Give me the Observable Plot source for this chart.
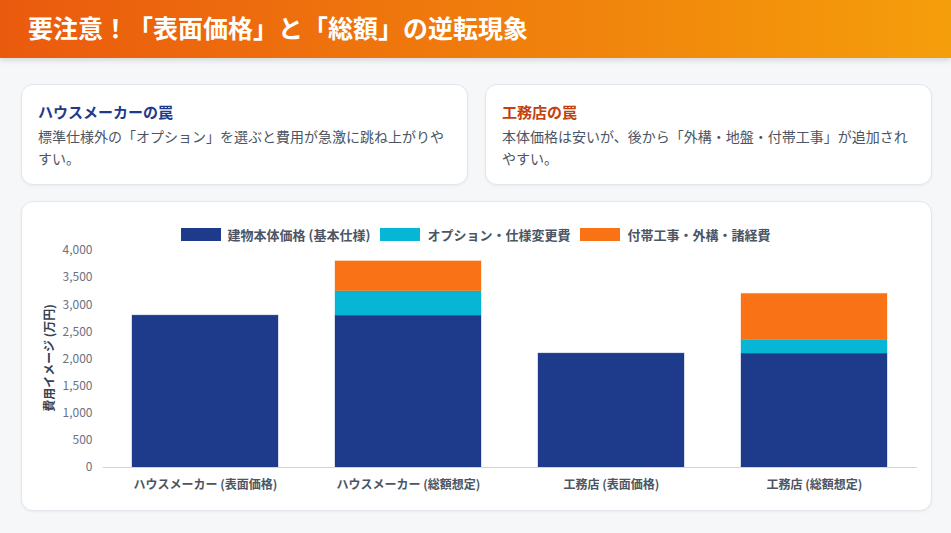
<!DOCTYPE html>
<html lang="ja">
<head>
<meta charset="utf-8">
<script src="https://cdn.jsdelivr.net/npm/d3@7"></script>
<script src="https://cdn.jsdelivr.net/npm/@observablehq/plot@0.6"></script>
<style>
  html, body { margin: 0; padding: 0; }
  body {
    width: 951px; height: 533px; overflow: hidden;
    background: #f6f7f9;
    font-family: "Noto Sans CJK JP", "Noto Sans", sans-serif;
    position: relative;
  }
  .header {
    position: absolute; left: 0; top: 0; width: 951px; height: 58px;
    background: linear-gradient(90deg, #ea5a0e 0%, #f59e0b 100%);
    box-shadow: 0 2px 6px rgba(0,0,0,0.15);
  }
  .header h1 {
    margin: 0; position: absolute; left: 28px; top: 10px;
    color: #fff; font-size: 25px; font-weight: 700; line-height: 34px;
  }
  .card {
    position: absolute; background: #fff; border: 1px solid #e3e7ed;
    border-radius: 12px; box-shadow: 0 1px 3px rgba(0,0,0,0.05);
    box-sizing: border-box;
  }
  .info { top: 84px; width: 447px; height: 101px; padding: 16px 16px 0 16px; }
  .info h2 { margin: 0 0 2px 0; font-size: 15px; font-weight: 700; line-height: 22px; }
  .info p { margin: 0; font-size: 14px; line-height: 22px; color: #4b5563; }
  .legend {
    position: absolute; left: 0; top: 225px; width: 951px;
    display: flex; justify-content: center; gap: 10px;
    font-size: 13px; font-weight: 700; color: #4b5563;
  }
  .legend span { display: flex; align-items: center; }
  .legend i { display: inline-block; width: 40px; height: 13px; margin-right: 7px; }
  #chart { position: absolute; left: 22px; top: 246px; }
  .ylab {
    position: absolute; left: 48px; top: 358px;
    transform: translate(-50%, -50%) rotate(-90deg);
    font-size: 12px; font-weight: 700; color: #374151; white-space: nowrap;
  }
</style>
</head>
<body>
<div class="header"><h1>要注意！「表面価格」と「総額」の逆転現象</h1></div>
<div class="card info" style="left:21px">
  <h2 style="color:#1e3a8a">ハウスメーカーの罠</h2>
  <p>標準仕様外の「オプション」を選ぶと費用が急激に跳ね上がりやすい。</p>
</div>
<div class="card info" style="left:485px">
  <h2 style="color:#c2410c">工務店の罠</h2>
  <p>本体価格は安いが、後から「外構・地盤・付帯工事」が追加されやすい。</p>
</div>
<div class="card" style="left:21px; top:201px; width:911px; height:310px;"></div>
<div class="legend" id="legend"></div>
<div id="chart"></div>
<div class="ylab">費用イメージ (万円)</div>
<script>
const categories = ["ハウスメーカー (表面価格)", "ハウスメーカー (総額想定)", "工務店 (表面価格)", "工務店 (総額想定)"];
const seriesNames = ["建物本体価格 (基本仕様)", "オプション・仕様変更費", "付帯工事・外構・諸経費"];
const baseValues = [2800, 2800, 2100, 2100];
const optionValues = [0, 450, 0, 250];
const extraValues = [0, 550, 0, 850];
const colors = ["#1e3a8a", "#06b6d4", "#f97316"];
const yTicks = [0, 500, 1000, 1500, 2000, 2500, 3000, 3500, 4000];

const seriesValues = [baseValues, optionValues, extraValues];
const data = [];
seriesNames.forEach((s, si) => categories.forEach((c, ci) => {
  data.push({category: c, series: s, value: seriesValues[si][ci]});
}));

const legend = document.getElementById("legend");
seriesNames.forEach((s, i) => {
  const sp = document.createElement("span");
  const sw = document.createElement("i");
  sw.style.background = colors[i];
  sp.appendChild(sw);
  sp.appendChild(document.createTextNode(s));
  legend.appendChild(sp);
});

const chart = Plot.plot({
  width: 910,
  height: 262,
  marginLeft: 81,
  marginRight: 15,
  marginTop: 4,
  marginBottom: 41,
  style: {fontFamily: '"Noto Sans CJK JP", "Noto Sans", sans-serif', background: "transparent", overflow: "visible"},
  x: {domain: categories, paddingInner: 0.28, paddingOuter: 0.14, label: null},
  y: {domain: [0, 4000], label: null},
  color: {domain: seriesNames, range: colors},
  marks: [
    Plot.gridY(yTicks, {stroke: "#ebedf0", strokeOpacity: 1, x1: -8}),
    Plot.ruleX([0], {frameAnchor: "left", stroke: "#d9dce1"}),
    Plot.barY(data, {x: "category", y: "value", fill: "series", order: seriesNames, stroke: "series", strokeOpacity: 0.35, strokeWidth: 1}),
    Plot.ruleY([0], {stroke: "#d1d5db", strokeWidth: 1.2}),
    Plot.axisY(yTicks, {tickSize: 0, tickPadding: 11, fontSize: 12, color: "#6b7280", label: null, tickFormat: d => d.toLocaleString("en-US")}),
    Plot.axisX({tickSize: 0, tickPadding: 13, fontSize: 12, fontWeight: 700, color: "#4b5563", label: null})
  ]
});
document.getElementById("chart").appendChild(chart);
</script>
</body>
</html>
